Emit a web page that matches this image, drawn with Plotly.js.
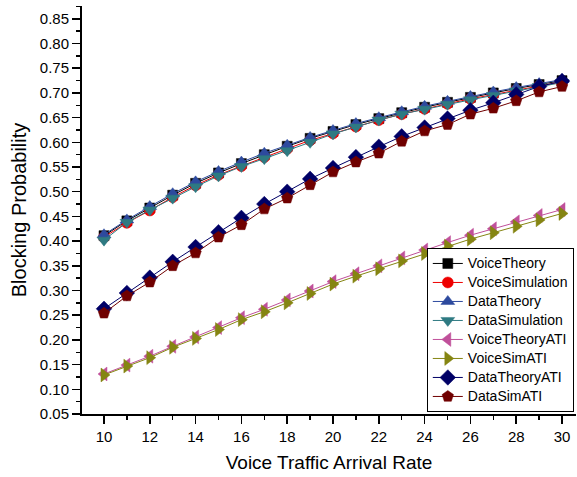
<!DOCTYPE html>
<html>
<head>
<meta charset="utf-8">
<script src="https://cdn.plot.ly/plotly-3.0.1.min.js"></script>
<style>html,body{margin:0;padding:0;background:#fff;}#chart{width:577px;height:477px;}</style>
</head>
<body>
<div id="chart"></div>
<script>
const arrivalRate = [10,11,12,13,14,15,16,17,18,19,20,21,22,23,24,25,26,27,28,29,30];
const voiceTheory = [0.411,0.441,0.467,0.493,0.517,0.538,0.557,0.575,0.592,0.608,0.622,0.636,0.648,0.660,0.671,0.681,0.691,0.700,0.709,0.717,0.725];
const voiceSimulation = [0.408,0.437,0.462,0.489,0.513,0.534,0.552,0.570,0.587,0.604,0.618,0.632,0.645,0.657,0.668,0.678,0.688,0.697,0.706,0.714,0.722];
const dataTheory = [0.413,0.443,0.470,0.496,0.520,0.541,0.560,0.578,0.594,0.610,0.624,0.638,0.650,0.662,0.673,0.683,0.693,0.702,0.711,0.719,0.727];
const dataSimulation = [0.402,0.438,0.463,0.487,0.510,0.532,0.551,0.567,0.583,0.600,0.617,0.631,0.645,0.657,0.667,0.677,0.686,0.695,0.704,0.713,0.721];
const voiceTheoryATI = [0.131,0.149,0.167,0.187,0.206,0.225,0.245,0.262,0.281,0.299,0.318,0.334,0.350,0.366,0.382,0.397,0.412,0.425,0.439,0.452,0.464];
const voiceSimATI = [0.129,0.147,0.164,0.185,0.203,0.221,0.241,0.257,0.275,0.294,0.313,0.329,0.344,0.360,0.375,0.390,0.404,0.417,0.430,0.443,0.456];
const dataTheoryATI = [0.263,0.295,0.326,0.358,0.388,0.418,0.447,0.475,0.500,0.526,0.548,0.570,0.591,0.612,0.630,0.648,0.665,0.680,0.697,0.713,0.724];
const dataSimATI = [0.254,0.289,0.317,0.350,0.376,0.408,0.433,0.465,0.487,0.514,0.540,0.560,0.578,0.602,0.623,0.636,0.657,0.669,0.684,0.702,0.713];
const seriesNames = ['VoiceTheory','VoiceSimulation','DataTheory','DataSimulation','VoiceTheoryATI','VoiceSimATI','DataTheoryATI','DataSimATI'];

const seriesDefs = [
  {y:voiceTheory, color:'#000000', symbol:'square', size:10},
  {y:voiceSimulation, color:'#ee0000', symbol:'circle', size:11},
  {y:dataTheory, color:'#2d4a9e', symbol:'triangle-up', size:12},
  {y:dataSimulation, color:'#2e7a82', symbol:'triangle-down', size:12},
  {y:voiceTheoryATI, color:'#c0509a', symbol:'triangle-left', size:12},
  {y:voiceSimATI, color:'#858512', symbol:'triangle-right', size:12},
  {y:dataTheoryATI, color:'#000066', symbol:'diamond', size:12},
  {y:dataSimATI, color:'#700000', symbol:'pentagon', size:12}
];

const traces = seriesDefs.map((s, i) => ({
  type:'scatter', mode:'lines+markers',
  name:'<span style="font-size:14px">' + seriesNames[i] + '</span>',
  x:arrivalRate, y:s.y,
  line:{color:s.color, width:1},
  marker:{symbol:s.symbol, size:s.size, color:s.color, line:{color:s.color, width:0.5}}
}));

const font = "'Liberation Sans', Arial, sans-serif";
const xr = [9.04, 30.61], yr = [0.05, 0.876];
const layout = {
  width:577, height:477,
  margin:{l:82, r:1, t:6, b:63, autoexpand:false},
  paper_bgcolor:'#fff', plot_bgcolor:'#fff',
  font:{family:font, size:15, color:'#000'},
  showlegend:true,
  legend:{x:0.698, xanchor:'left', y:0.005, yanchor:'bottom', bgcolor:'#fff',
    bordercolor:'#000', borderwidth:1, font:{family:font, size:12, color:'#000'}},
  xaxis:{range:xr, showgrid:false, zeroline:false, showline:true, linecolor:'#000', linewidth:2,
    ticks:'outside', ticklen:8, tickwidth:1.5, tickcolor:'#000', tick0:10, dtick:2,
    minor:{dtick:1, ticklen:4, tickwidth:1.5, tickcolor:'#000', ticks:'outside'},
    tickfont:{size:15}, title:{text:'Voice Traffic Arrival Rate', font:{size:19}, standoff:12}},
  yaxis:{range:yr, showgrid:false, zeroline:false, showline:true, linecolor:'#000', linewidth:2,
    ticks:'outside', ticklen:8, tickwidth:1.5, tickcolor:'#000', tick0:0.05, dtick:0.05, tickformat:'.2f',
    minor:{dtick:0.025, ticklen:4, tickwidth:1.5, tickcolor:'#000', ticks:'outside'},
    tickfont:{size:15}, title:{text:'Blocking Probability', font:{size:20}, standoff:8}},
  xaxis2:{range:xr, overlaying:'x', side:'top', anchor:'y', showgrid:false, zeroline:false, showline:true,
    linecolor:'#000', linewidth:2, ticks:'inside', ticklen:8, tickwidth:1.5, tickcolor:'#000', tick0:10, dtick:2,
    minor:{dtick:1, ticklen:4, tickwidth:1.5, tickcolor:'#000', ticks:'inside'}, showticklabels:false},
  yaxis2:{range:yr, overlaying:'y', side:'right', anchor:'x', showgrid:false, zeroline:false, showline:true,
    linecolor:'#000', linewidth:2, ticks:'inside', ticklen:6, tickwidth:1.5, tickcolor:'#000', tick0:0.05, dtick:0.05,
    minor:{dtick:0.025, ticklen:3, tickwidth:1.5, tickcolor:'#000', ticks:'inside'}, showticklabels:false}
};
Plotly.newPlot('chart', traces, layout, {staticPlot:true, displayModeBar:false});
</script>
</body>
</html>
